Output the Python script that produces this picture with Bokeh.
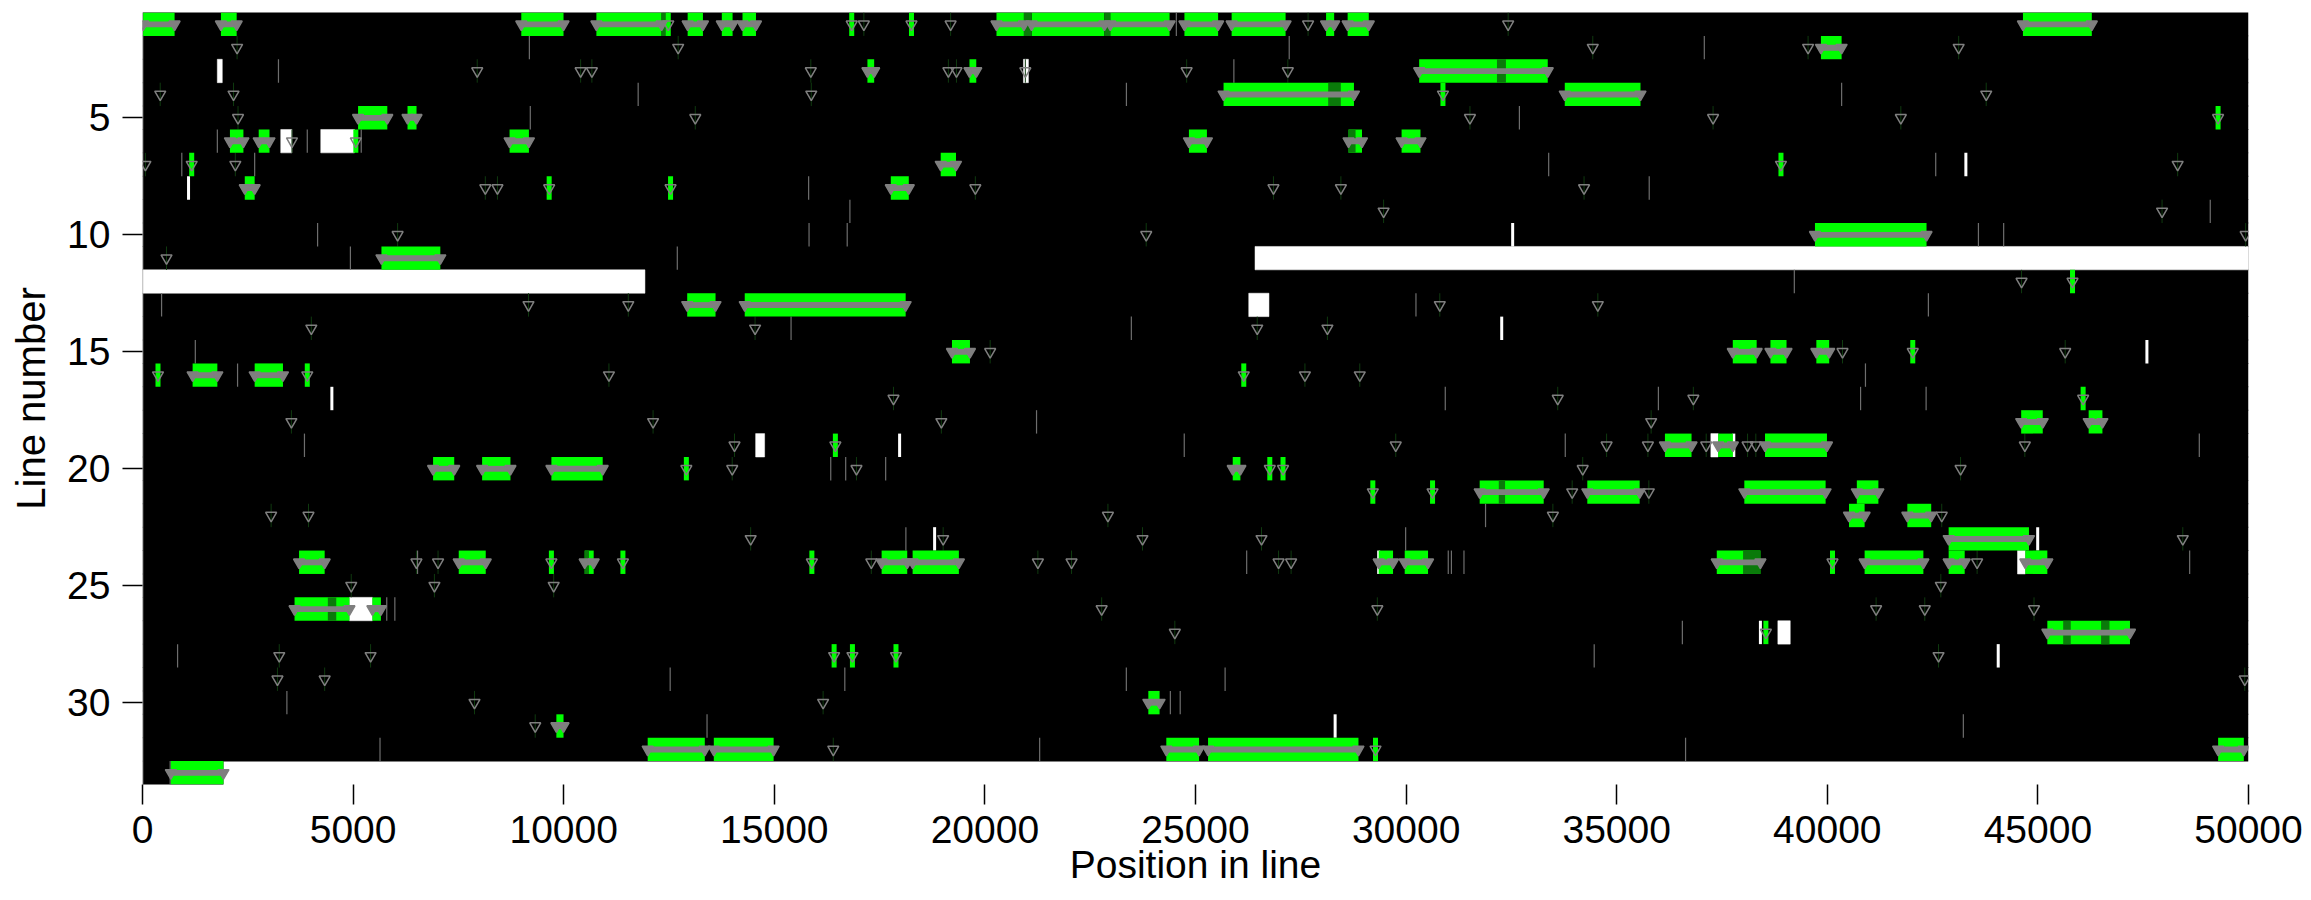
from bokeh.plotting import figure
from bokeh.models import Range1d, FixedTicker
from bokeh.embed import file_html
from bokeh.resources import INLINE

# ---- data -------------------------------------------------------------
line_ids = [1, 2, 3, 4, 5, 6, 7, 8, 9, 10, 11, 12, 13, 14, 15, 16, 17,
            18, 19, 20, 21, 22, 23, 24, 25, 26, 27, 28, 29, 30, 31, 32, 33]
line_lengths = [50000, 50000, 50000, 50000, 50000, 50000, 50000, 50000,
                50000, 50000, 50000, 50000, 50000, 50000, 50000, 50000,
                50000, 50000, 50000, 50000, 50000, 50000, 50000, 50000,
                50000, 50000, 50000, 50000, 50000, 50000, 50000, 50000,
                1922]

x_ticks = [0, 5000, 10000, 15000, 20000, 25000, 30000, 35000, 40000, 45000, 50000]
y_ticks = [5, 10, 15, 20, 25, 30]

# uncovered stretches (line, start, end)
gaps = [(3, 1776, 1894), (3, 20915, 21033), (6, 3282, 3549), (6, 4232, 5033),
        (11, 26413, 50000), (12, 0, 11929), (13, 26264, 26744),
        (19, 14557, 14770), (19, 37235, 37409), (24, 44516, 44701),
        (26, 4913, 5458), (27, 38826, 39120)]

# single-position breaks (line, position)
breaks = [(7, 43290), (8, 1093), (10, 32530), (14, 32270), (15, 47588),
          (17, 4496), (19, 17975), (19, 37780), (23, 18806), (23, 44995),
          (24, 29349), (27, 38412), (28, 44058), (31, 28315)]

# boundary markers (line, position)
boundaries = [(1, 24545), (2, 9185), (2, 27225), (2, 37080), (3, 3228), (3, 25911),
              (4, 11768), (4, 23360), (4, 40340), (5, 9207), (5, 32690),
              (6, 1777), (6, 3912), (6, 5193), (7, 933), (7, 2663), (7, 33385),
              (7, 42574), (8, 15815), (8, 35772), (9, 16795), (9, 49092),
              (10, 4157), (10, 15825), (10, 16731), (10, 43588), (10, 44187),
              (11, 4936), (11, 12697), (12, 39217), (13, 453), (13, 30234),
              (13, 42400), (14, 15398), (14, 23477), (15, 1254), (16, 2257),
              (16, 40906), (17, 30930), (17, 35990), (17, 40790), (17, 42346),
              (18, 21226), (19, 3845), (19, 24733), (19, 33779), (19, 48832),
              (20, 16340), (20, 16695), (20, 17644), (22, 31886), (23, 18124),
              (23, 29989), (24, 6530), (24, 26215), (24, 31001), (24, 31076),
              (24, 31374), (24, 48603), (26, 5799), (26, 5991), (27, 36559),
              (28, 833), (28, 34466), (29, 12528), (29, 16674), (29, 23358),
              (29, 25703), (30, 3428), (30, 24403), (30, 24637), (31, 13403),
              (31, 43230), (32, 5639), (32, 21300), (32, 36635), (33, 657)]

# isolated sites (line, position)
sites = [(1, 17126), (1, 19186), (1, 27673), (1, 32423),
         (2, 2246), (2, 12718), (2, 34432), (2, 39544), (2, 43119),
         (3, 7947), (3, 10402), (3, 10669), (3, 15867), (3, 19133), (3, 19325),
         (3, 20960), (3, 24790), (3, 27192),
         (4, 421), (4, 2161), (4, 15878), (4, 43773),
         (5, 2268), (5, 13124), (5, 31516), (5, 37288), (5, 41746),
         (6, 3549),
         (7, 69), (7, 2204), (7, 48318),
         (8, 8139), (8, 8427), (8, 19773), (8, 26851), (8, 28452), (8, 34225),
         (9, 29466), (9, 47948),
         (10, 6057), (10, 23830), (10, 49932),
         (11, 570), (12, 44612),
         (13, 9164), (13, 11534), (13, 30800), (13, 34552),
         (14, 4008), (14, 14544), (14, 26466), (14, 28132),
         (15, 20125), (15, 40361), (15, 45648),
         (16, 11074), (16, 27598), (16, 28900),
         (17, 17830), (17, 33600), (17, 36820),
         (18, 3535), (18, 12122), (18, 18966), (18, 35818),
         (19, 14055), (19, 29754), (19, 34760), (19, 35741), (19, 37125),
         (19, 38107), (19, 38303), (19, 44690),
         (20, 14001), (20, 16951), (20, 34193), (20, 43164),
         (21, 33943), (21, 35763),
         (22, 3054), (22, 3941), (22, 22921), (22, 33485), (22, 42717),
         (23, 14439), (23, 19009), (23, 23742), (23, 26567), (23, 48440),
         (24, 6504), (24, 7017), (24, 17303), (24, 21258), (24, 22057),
         (24, 26972), (24, 27270), (24, 43557),
         (25, 4956), (25, 6931), (25, 9762), (25, 42695),
         (26, 22772), (26, 29317), (26, 41159), (26, 42314), (26, 44908),
         (27, 24509), (28, 3247), (28, 5415), (28, 42641),
         (29, 3204), (29, 4325), (29, 49911),
         (30, 7882), (30, 16159), (31, 9324), (32, 16400)]

# sites that fall on a matched stretch (line, position)
hit_sites = [(1, 12483), (1, 16838), (1, 18257), (4, 30875), (5, 49278), (6, 5065),
             (7, 1168), (7, 38900), (8, 9655), (8, 12537), (12, 45822),
             (15, 42029), (16, 368), (16, 3912), (16, 26146), (17, 46074),
             (19, 16450), (20, 12912), (20, 26764), (20, 27078), (21, 29210),
             (21, 30628), (24, 9708), (24, 11406), (24, 15892), (24, 40123),
             (27, 38542), (28, 16420), (28, 16855), (28, 17889), (32, 29274)]

# matched stretches (line, start, end)
hits = [(1, 15, 762), (1, 1862, 2236), (1, 8993, 9996), (1, 10776, 12324),
        (1, 12943, 13306), (1, 13754, 14010), (1, 14245, 14565), (1, 20275, 20926),
        (1, 21108, 22837), (1, 22976, 24385), (1, 24737, 25537), (1, 25858, 27139),
        (1, 28100, 28292), (1, 28612, 29114), (1, 44645, 46280),
        (2, 39849, 40340),
        (3, 17211, 17371), (3, 19634, 19795), (3, 30310, 33363),
        (4, 25666, 28762), (4, 33767, 35565),
        (5, 5118, 5812), (5, 6292, 6506),
        (6, 2076, 2396), (6, 2759, 3015), (6, 8715, 9174), (6, 24844, 25271),
        (6, 28633, 28953), (6, 29893, 30341),
        (7, 18951, 19314),
        (8, 2428, 2663), (8, 17766, 18193),
        (10, 39707, 42356),
        (11, 5673, 7071),
        (13, 12932, 13605), (13, 14298, 18119),
        (15, 19218, 19645), (15, 37756, 38323), (15, 38650, 39032), (15, 39740, 40045),
        (16, 1190, 1777), (16, 2663, 3335),
        (18, 44603, 45115), (18, 46205, 46532),
        (19, 36145, 36777), (19, 37409, 37758), (19, 38521, 39992),
        (20, 6899, 7401), (20, 8063, 8736), (20, 9708, 10926), (20, 25884, 26066),
        (21, 31747, 33267), (21, 34302, 35545), (21, 38030, 39960), (21, 40701, 41213),
        (22, 40515, 40886), (22, 41900, 42467),
        (23, 42881, 44788),
        (24, 3717, 4325), (24, 7508, 8149), (24, 10498, 10712), (24, 17548, 18156),
        (24, 18284, 19382), (24, 29349, 29690), (24, 29967, 30521), (24, 37376, 38412),
        (24, 40886, 42281), (24, 42881, 43262), (24, 44701, 45224),
        (26, 3610, 4913), (26, 5458, 5660),
        (27, 45224, 47186),
        (30, 23880, 24147),
        (31, 9826, 9996),
        (32, 11994, 13350), (32, 13564, 14984), (32, 24307, 25085), (32, 25298, 28869),
        (32, 49279, 49889),
        (33, 673, 1922)]

# weaker parts of matched stretches (line, start, end)
weak_hits = [(1, 12324, 12500), (1, 20926, 21108), (1, 22837, 22976),
             (3, 32157, 32370), (4, 28150, 28450), (6, 28633, 28800),
             (21, 32200, 32350), (24, 38000, 38412), (24, 10498, 10600),
             (26, 4400, 4600), (27, 45600, 45780), (27, 46500, 46700)]

# ---- figure -----------------------------------------------------------
FONT = "Liberation Sans"
GREEN = "#00ff00"
DARK_GREEN = "#0a7a0a"
GREY = "#7f7f7f"

p = figure(width=2311, height=900, output_backend="svg", toolbar_location=None,
           x_range=Range1d(0, 50000), y_range=Range1d(33.5, 0.5),
           min_border_left=142, min_border_right=63,
           min_border_top=12, min_border_bottom=116)
p.outline_line_color = None
p.xgrid.visible = False
p.ygrid.visible = False
p.background_fill_color = "white"
p.border_fill_color = "white"

half = 0.5
pad = 0.52  # slight overlap so neighbouring line bodies leave no seam

# line bodies
p.quad(left=[0] * len(line_ids), right=line_lengths,
       top=[k - pad for k in line_ids], bottom=[k + pad for k in line_ids],
       fill_color="black", line_color=None)

# gaps
p.quad(left=[g[1] for g in gaps], right=[g[2] for g in gaps],
       top=[g[0] - half for g in gaps], bottom=[g[0] + half for g in gaps],
       fill_color="white", line_color="white", line_width=0.5)

# start edge of every line
p.segment(x0=[0] * len(line_ids), x1=[0] * len(line_ids),
          y0=[k - half for k in line_ids], y1=[k + half for k in line_ids],
          line_color="#b8b8b8", line_width=1.5)

# boundary markers
p.segment(x0=[b[1] for b in boundaries], x1=[b[1] for b in boundaries],
          y0=[b[0] - half for b in boundaries], y1=[b[0] + half for b in boundaries],
          line_color="#6e6e6e", line_width=1.2)

# breaks
p.segment(x0=[b[1] for b in breaks], x1=[b[1] for b in breaks],
          y0=[b[0] - half for b in breaks], y1=[b[0] + half for b in breaks],
          line_color="white", line_width=3)

# faint stems behind isolated sites
p.segment(x0=[s[1] for s in sites], x1=[s[1] for s in sites],
          y0=[s[0] - half for s in sites], y1=[s[0] + half for s in sites],
          line_color="#0f3a0f", line_width=1)

# matched stretches
p.quad(left=[h[1] for h in hits], right=[h[2] for h in hits],
       top=[h[0] - half for h in hits], bottom=[h[0] + half for h in hits],
       fill_color=GREEN, line_color=None)
p.quad(left=[h[1] for h in weak_hits], right=[h[2] for h in weak_hits],
       top=[h[0] - half for h in weak_hits], bottom=[h[0] + half for h in weak_hits],
       fill_color=DARK_GREEN, line_color=None)

# single matched sites
p.segment(x0=[s[1] for s in hit_sites], x1=[s[1] for s in hit_sites],
          y0=[s[0] - half for s in hit_sites], y1=[s[0] + half for s in hit_sites],
          line_color=GREEN, line_width=5)

# crowded site markers along matched stretches
p.quad(left=[h[1] for h in hits], right=[h[2] for h in hits],
       top=[h[0] - 0.12 for h in hits], bottom=[h[0] + 0.13 for h in hits],
       fill_color=GREY, line_color=None)
hit_ends = [(h[0], h[1]) for h in hits] + [(h[0], h[2]) for h in hits]
p.scatter(x=[e[1] for e in hit_ends], y=[e[0] for e in hit_ends],
          marker="inverted_triangle", size=11,
          fill_color=GREY, line_color=GREY, line_width=1.5)
p.scatter(x=[s[1] for s in hit_sites], y=[s[0] for s in hit_sites],
          marker="inverted_triangle", size=11,
          fill_color=None, line_color=GREY, line_width=1.5)

# isolated site markers
p.scatter(x=[s[1] for s in sites], y=[s[0] for s in sites],
          marker="inverted_triangle", size=11,
          fill_color=None, line_color=GREY, line_width=1.5)

# ---- axes -------------------------------------------------------------
xa = p.xaxis[0]
xa.ticker = FixedTicker(ticks=x_ticks)
xa.axis_label = "Position in line"
ya = p.yaxis[0]
ya.ticker = FixedTicker(ticks=y_ticks)
ya.axis_label = "Line number"

for ax in (xa, ya):
    ax.axis_line_color = None
    ax.major_tick_line_color = "black"
    ax.major_tick_line_width = 1.5
    ax.major_tick_out = 20
    ax.major_tick_in = 0
    ax.minor_tick_line_color = None
    ax.major_label_text_font = FONT
    ax.major_label_text_font_size = "39px"
    ax.major_label_text_color = "black"
    ax.axis_label_text_font = FONT
    ax.axis_label_text_font_style = "normal"
    ax.axis_label_text_color = "black"

xa.axis_label_text_font_size = "39px"
ya.axis_label_text_font_size = "40px"
xa.major_label_standoff = 11
xa.axis_label_standoff = -3
ya.major_label_standoff = 12
ya.major_label_orientation = "horizontal"
ya.axis_label_standoff = 11

open("out.html", "w").write(file_html(p, INLINE))
